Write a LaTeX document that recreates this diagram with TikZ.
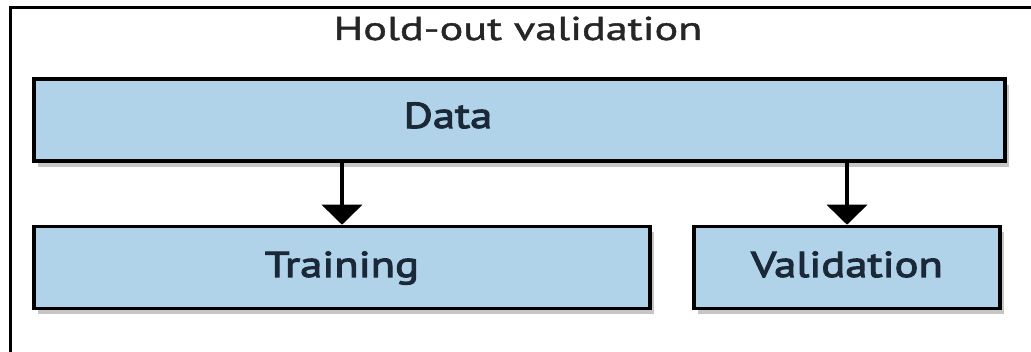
\documentclass[tikz,border=0pt]{standalone}
\usepackage{fontspec}
\setmainfont{PT Sans}
\newfontfamily\partfont[FakeStretch=1.24,FakeBold=3]{PT Sans}
\newfontfamily\headfont[FakeStretch=1.34,FakeBold=1.3]{PT Sans}
\usetikzlibrary{positioning,arrows.meta,shadows}

\tikzset{
  part/.style={draw=black, line width=3.5pt, fill=partblue, inner sep=0pt,
    minimum height=82pt,
    drop shadow={shadow xshift=4pt, shadow yshift=-6pt, fill=black!50, opacity=0.45}},
  word/.style={text=wordink, font=\partfont\fontsize{36}{40}\selectfont, anchor=base},
  split/.style={line width=3.5pt, -{Triangle[width=40pt,length=20pt]}}
}
\definecolor{partblue}{HTML}{B0D3EA}
\definecolor{wordink}{HTML}{1B2838}

\begin{document}
\begin{tikzpicture}[x=1pt, y=-1pt, node distance=147.5pt]
      \useasboundingbox (0,0) rectangle (1031,352);
      % frame and title
      \draw[line width=3pt] (10,400) -- (10,8) -- (1060,8);
      \node [anchor=base, text=black!85, font=\headfont\fontsize{33}{38}\selectfont] (title) at (518,40) {Hold-out validation};
      % row 1
      \node [part, minimum width=971pt] (data) at (519.5,120) {};
      \node [word] (datatext) at (448,128) {Data};
      % row 2
      \node [part, minimum width=616pt, below of=data, xshift=-177.5pt] (training) {};
      \node [part, minimum width=306pt, below of=data, xshift=327.5pt] (validation) {};
      \node [word] (trainingtext) at (training.center |- 0,277) {Training};
      \node [word] (validationtext) at (validation.center |- 0,277) {Validation};

      % links
      \draw [split] (data.south -| training.north) -- (training.north);
      \draw [split] (data.south -| validation.north) -- (validation.north);
    \end{tikzpicture}
\end{document}
